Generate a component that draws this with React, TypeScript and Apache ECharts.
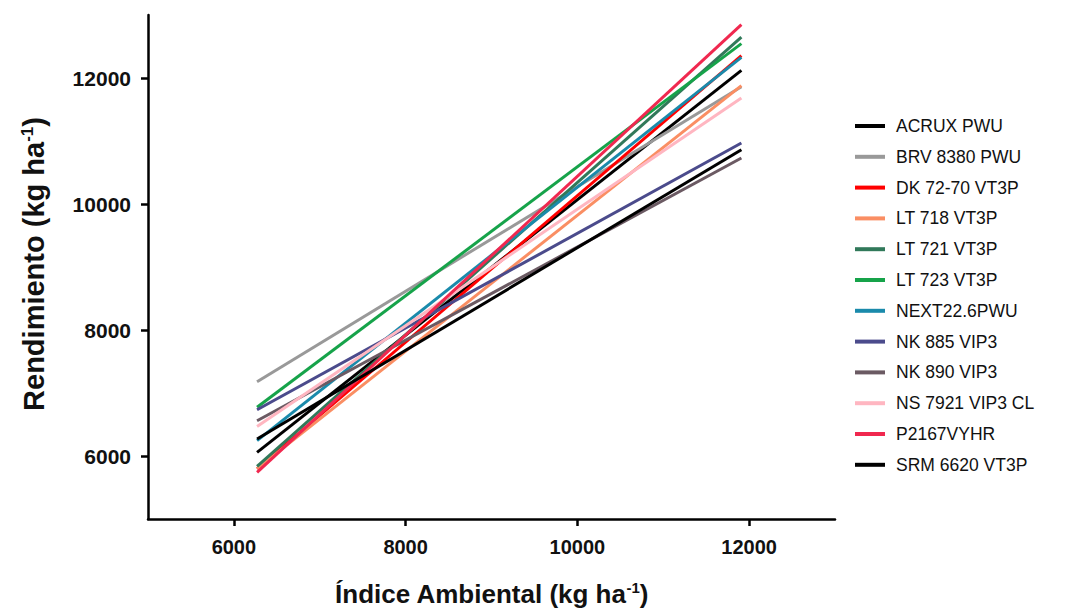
import React, { useEffect, useRef } from "react";
import * as echarts from "echarts";

const xStart = 6270;
const xEnd = 11910;

const names = [
  "ACRUX PWU",
  "BRV 8380 PWU",
  "DK 72-70 VT3P",
  "LT 718 VT3P",
  "LT 721 VT3P",
  "LT 723 VT3P",
  "NEXT22.6PWU",
  "NK 885 VIP3",
  "NK 890 VIP3",
  "NS 7921 VIP3 CL",
  "P2167VYHR",
  "SRM 6620 VT3P",
];

const startValues = [6058, 7180, 5794, 5800, 5837, 6773, 6243, 6735, 6560, 6470, 5740, 6270];
const endValues = [12122, 11860, 12354, 11880, 12650, 12545, 12328, 10968, 10730, 11683, 12846, 10862];

const colors = [
  "#000000",
  "#999999",
  "#ff0000",
  "#fa8e63",
  "#31795a",
  "#16a34a",
  "#1a8aab",
  "#4b4b8c",
  "#6b5a63",
  "#ffb6c1",
  "#f0284f",
  "#000000",
];

const tickValues = [6000, 8000, 10000, 12000];

export default function App() {
  const ref = useRef<HTMLDivElement>(null);
  useEffect(() => {
    if (!ref.current) return;
    const chart = echarts.init(ref.current, null, { renderer: "svg" });
    const font = "Liberation Sans, Arial, sans-serif";
    const series = names.map((n, i) => ({
      name: n,
      type: "line",
      data: [
        [xStart, startValues[i]],
        [xEnd, endValues[i]],
      ],
      symbol: "none",
      lineStyle: { color: colors[i], width: 3 },
      itemStyle: { color: colors[i] },
    }));
    chart.setOption({
      animation: false,
      textStyle: { fontFamily: font },
      grid: { left: 148, right: 238, top: 15, bottom: 91, outerBoundsMode: "none", containLabel: false },
      legend: {
        orient: "vertical",
        left: 850,
        top: 112,
        icon: "rect",
        itemWidth: 30,
        itemHeight: 4,
        itemGap: 12.8,
        data: names,
        textStyle: {
          fontSize: 17.5,
          lineHeight: 17,
          color: "#111",
          fontFamily: font,
          padding: [0, 0, 0, 6],
        },
      },
      xAxis: {
        type: "value",
        min: 5000,
        max: 13000,
        name: "{t|Índice Ambiental (kg ha}{s|-1}{t|)}",
        nameLocation: "middle",
        nameGap: 61,
        nameTextStyle: {
          rich: {
            t: { fontSize: 26, fontWeight: "bold", color: "#111", fontFamily: font },
            s: { fontSize: 15, fontWeight: "bold", color: "#111", fontFamily: font, verticalAlign: "top", padding: [0, 0, 12, 0] },
          },
        },
        axisLine: { show: true, lineStyle: { color: "#000", width: 2.5 } },
        axisTick: { show: true, length: 7, lineStyle: { color: "#000", width: 2.5 }, customValues: tickValues },
        axisLabel: {
          customValues: tickValues,
          formatter: (v: number) => String(v),
          fontSize: 20,
          fontWeight: "bold",
          color: "#111",
          margin: 18,
          fontFamily: font,
        },
        splitLine: { show: false },
      },
      yAxis: {
        type: "value",
        min: 5000,
        max: 13000,
        name: "{t|Rendimiento (kg ha}{s|-1}{t|)}",
        nameLocation: "middle",
        nameGap: 99,
        nameTextStyle: {
          padding: [0, 0, 0, 6],
          rich: {
            t: { fontSize: 29, fontWeight: "bold", color: "#111", fontFamily: font },
            s: { fontSize: 17, fontWeight: "bold", color: "#111", fontFamily: font, verticalAlign: "top", padding: [0, 0, 13, 0] },
          },
        },
        axisLine: { show: true, lineStyle: { color: "#000", width: 2.5 } },
        axisTick: { show: true, length: 7, lineStyle: { color: "#000", width: 2.5 }, customValues: tickValues },
        axisLabel: {
          customValues: tickValues,
          formatter: (v: number) => String(v),
          fontSize: 21,
          fontWeight: "bold",
          color: "#111",
          margin: 17,
          fontFamily: font,
        },
        splitLine: { show: false },
      },
      series,
    });
    return () => chart.dispose();
  }, []);
  return (
    <div
      ref={ref}
      style={{ position: "absolute", left: 0, top: 0, width: 1073, height: 610 }}
    />
  );
}
